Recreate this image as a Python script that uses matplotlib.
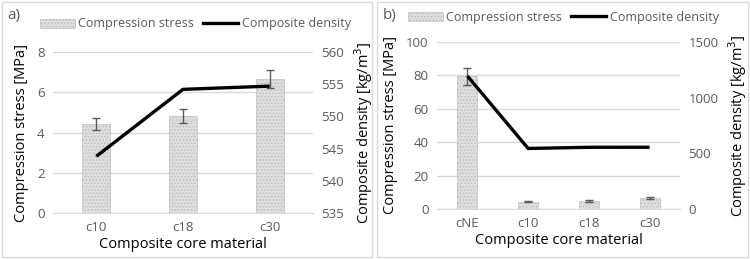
import numpy as np
import matplotlib.pyplot as plt
from matplotlib.patches import Rectangle, Patch
from matplotlib.lines import Line2D

plt.rcParams['font.family'] = ['Open Sans', 'DejaVu Sans']
plt.rcParams['hatch.color'] = '#999999'
plt.rcParams['hatch.linewidth'] = 0.7

# Panel a data
cats_a = ['c10', 'c18', 'c30']
stress_a = [4.4, 4.8, 6.65]
stress_err_a = [0.3, 0.35, 0.45]
density_a = [543.8, 554.2, 554.7]

# Panel b data
cats_b = ['cNE', 'c10', 'c18', 'c30']
stress_b = [79.5, 4.4, 4.8, 6.65]
stress_err_b = [5.2, 0.3, 0.35, 0.45]
density_b = [1195, 543.8, 554.2, 554.7]

W, H = 750, 259
fig = plt.figure(figsize=(W / 100, H / 100), dpi=100)

tick_col = '#595959'
grid_col = '#d9d9d9'
bar_face = '#dedede'


def px(l, t, r, b):
    return [l / W, 1 - b / H, (r - l) / W, (b - t) / H]


def panel(rect, cats, stress, err, dens, ylim, yticks, y2lim, y2ticks, bw, tag, tagpos, legpos):
    ax = fig.add_axes(rect)
    x = np.arange(len(cats))
    ax.bar(x, stress, width=bw, color=bar_face, edgecolor='#bfbfbf', linewidth=0.5,
           hatch='.....', zorder=2)
    ax.errorbar(x, stress, yerr=err, fmt='none', ecolor=tick_col, elinewidth=1,
                capsize=3, capthick=1, zorder=3)
    ax.set_xlim(-0.5, len(cats) - 0.5)
    ax.set_ylim(*ylim)
    ax.set_yticks(yticks)
    ax.set_xticks(x)
    ax.set_xticklabels(cats)
    ax.grid(axis='y', color=grid_col, linewidth=1, zorder=0)
    ax.set_axisbelow(True)
    for s in ['top', 'left', 'right']:
        ax.spines[s].set_visible(False)
    ax.spines['bottom'].set_color(grid_col)
    ax.tick_params(length=0, colors=tick_col, labelsize=9.5, pad=6)
    ax.set_ylabel('Compression stress [MPa]', fontsize=10.5, labelpad=6)
    ax.set_xlabel('Composite core material', fontsize=10.5, labelpad=2)

    ax2 = ax.twinx()
    ax2.plot(x, dens, color='black', linewidth=2.4, solid_capstyle='butt', zorder=4)
    ax2.set_ylim(*y2lim)
    ax2.set_yticks(y2ticks)
    for s in ['top', 'left', 'right', 'bottom']:
        ax2.spines[s].set_visible(False)
    ax2.tick_params(length=0, colors=tick_col, labelsize=9.5, pad=6)
    ax2.set_ylabel('Composite density [kg/m$^3$]', fontsize=10.5, labelpad=6)

    fig.text(tagpos[0] / W, 1 - tagpos[1] / H, tag, fontsize=11, color=tick_col,
             va='center', ha='left')
    handles = [Patch(facecolor=bar_face, edgecolor='#bfbfbf', hatch='.....', linewidth=0.5),
               Line2D([0], [0], color='black', linewidth=2.4)]
    fig.legend(handles, ['Compression stress', 'Composite density'], ncol=2,
               loc='center', bbox_to_anchor=(legpos[0] / W, 1 - legpos[1] / H),
               frameon=False, fontsize=9, labelcolor=tick_col, handlelength=2.8,
               handletextpad=0.25, columnspacing=0.8, borderaxespad=0)


panel(px(53, 52, 313, 213), cats_a, stress_a, stress_err_a, density_a,
      (0, 8), [0, 2, 4, 6, 8], (535, 560), [535, 540, 545, 550, 555, 560], 0.32,
      'a)', (7, 15), (195, 24))
panel(px(437, 42, 680, 209), cats_b, stress_b, stress_err_b, density_b,
      (0, 100), [0, 20, 40, 60, 80, 100], (0, 1500), [0, 500, 1000, 1500], 0.33,
      'b)', (383, 15), (563, 17))

for l, r in [(2, 372), (377, 748)]:
    fig.patches.append(Rectangle((l / W, 2 / H), (r - l) / W, (H - 4) / H,
                                 transform=fig.transFigure, fill=False,
                                 edgecolor=grid_col, linewidth=1))

fig.savefig('out.png', dpi=100)
